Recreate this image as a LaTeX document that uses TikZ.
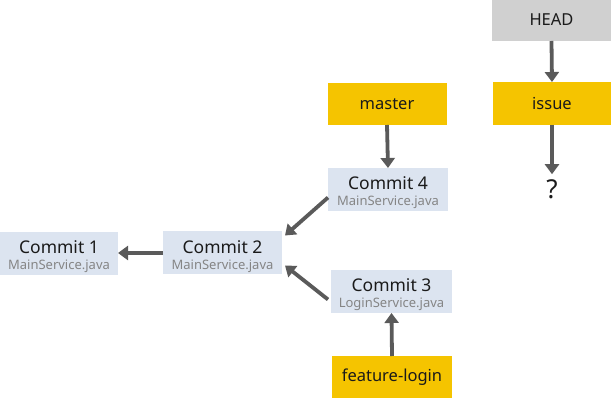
\documentclass[tikz,border=0pt]{standalone}
\usepackage{fontspec}
\setmainfont{Noto Sans}
\usetikzlibrary{arrows.meta,calc}
\definecolor{headgray}{HTML}{D0D0D0}
\definecolor{branchyel}{HTML}{F5C400}
\definecolor{commitblue}{HTML}{DCE4F0}
\definecolor{arrowgray}{HTML}{5A5A5A}
\definecolor{subgray}{HTML}{858585}
\definecolor{textdark}{HTML}{1A1A1A}
\tikzset{
  box/.style={minimum width=119pt,minimum height=43pt,inner sep=0pt,outer sep=0pt,text=textdark,font=\fontsize{16.5}{19}\selectfont},
  headbox/.style={box,fill=headgray},
  branch/.style={box,fill=branchyel},
  commit/.style={box,fill=commitblue,align=center},
  conn/.style={draw=arrowgray,line width=3.8pt,-{Triangle[length=10pt,width=14pt]}},
}
\newcommand{\ctext}[2]{{\fontsize{17.5}{19}\selectfont\rule{0pt}{20pt}#1}\\[-3pt]{\fontsize{13}{14}\selectfont\color{subgray}#2}}
\begin{document}
\begin{tikzpicture}[x=1pt,y=-1pt]
\useasboundingbox (0,0) rectangle (611,398);
\node[headbox] (head) at (551.5,19.5) {HEAD};
\node[branch,minimum height=43pt] (issue) at (552,103.5) {issue};
\node[branch,minimum height=42pt] (master) at (387,104) {master};
\node[commit,minimum width=120pt] (c4) at (388,189.5) {\ctext{Commit 4}{MainService.java}};
\node[commit,minimum width=121pt] (c3) at (391.5,291.5) {\ctext{Commit 3}{LoginService.java}};
\node[branch,minimum width=120pt,minimum height=42pt] (fl) at (392,377) {feature-login};
\node[commit] (c2) at (222.5,253) {\ctext{Commit 2}{MainService.java}};
\node[commit,minimum width=118pt] (c1) at (59,253.5) {\ctext{Commit 1}{MainService.java}};
\node[font=\fontsize{26}{28}\selectfont,inner sep=0pt,text=textdark] (q) at (552,189) {?};
\draw[conn] (head.south) -- (issue.north);
\draw[conn] (issue.south) -- ($(q.north)+(0,-5)$);
\draw[conn] (master.south) -- (c4.north);
\draw[conn] (fl.north) -- (c3.south);
\draw[conn] (c2.west) -- (c2.west -| c1.east);
\draw[conn] ($(c4.west)+(0,8)$) -- ($(c2.north east)+(3,4)$);
\draw[conn] ($(c3.west)+(-3,8)$) -- ($(c2.south east)+(3,-9)$);
\end{tikzpicture}
\end{document}
